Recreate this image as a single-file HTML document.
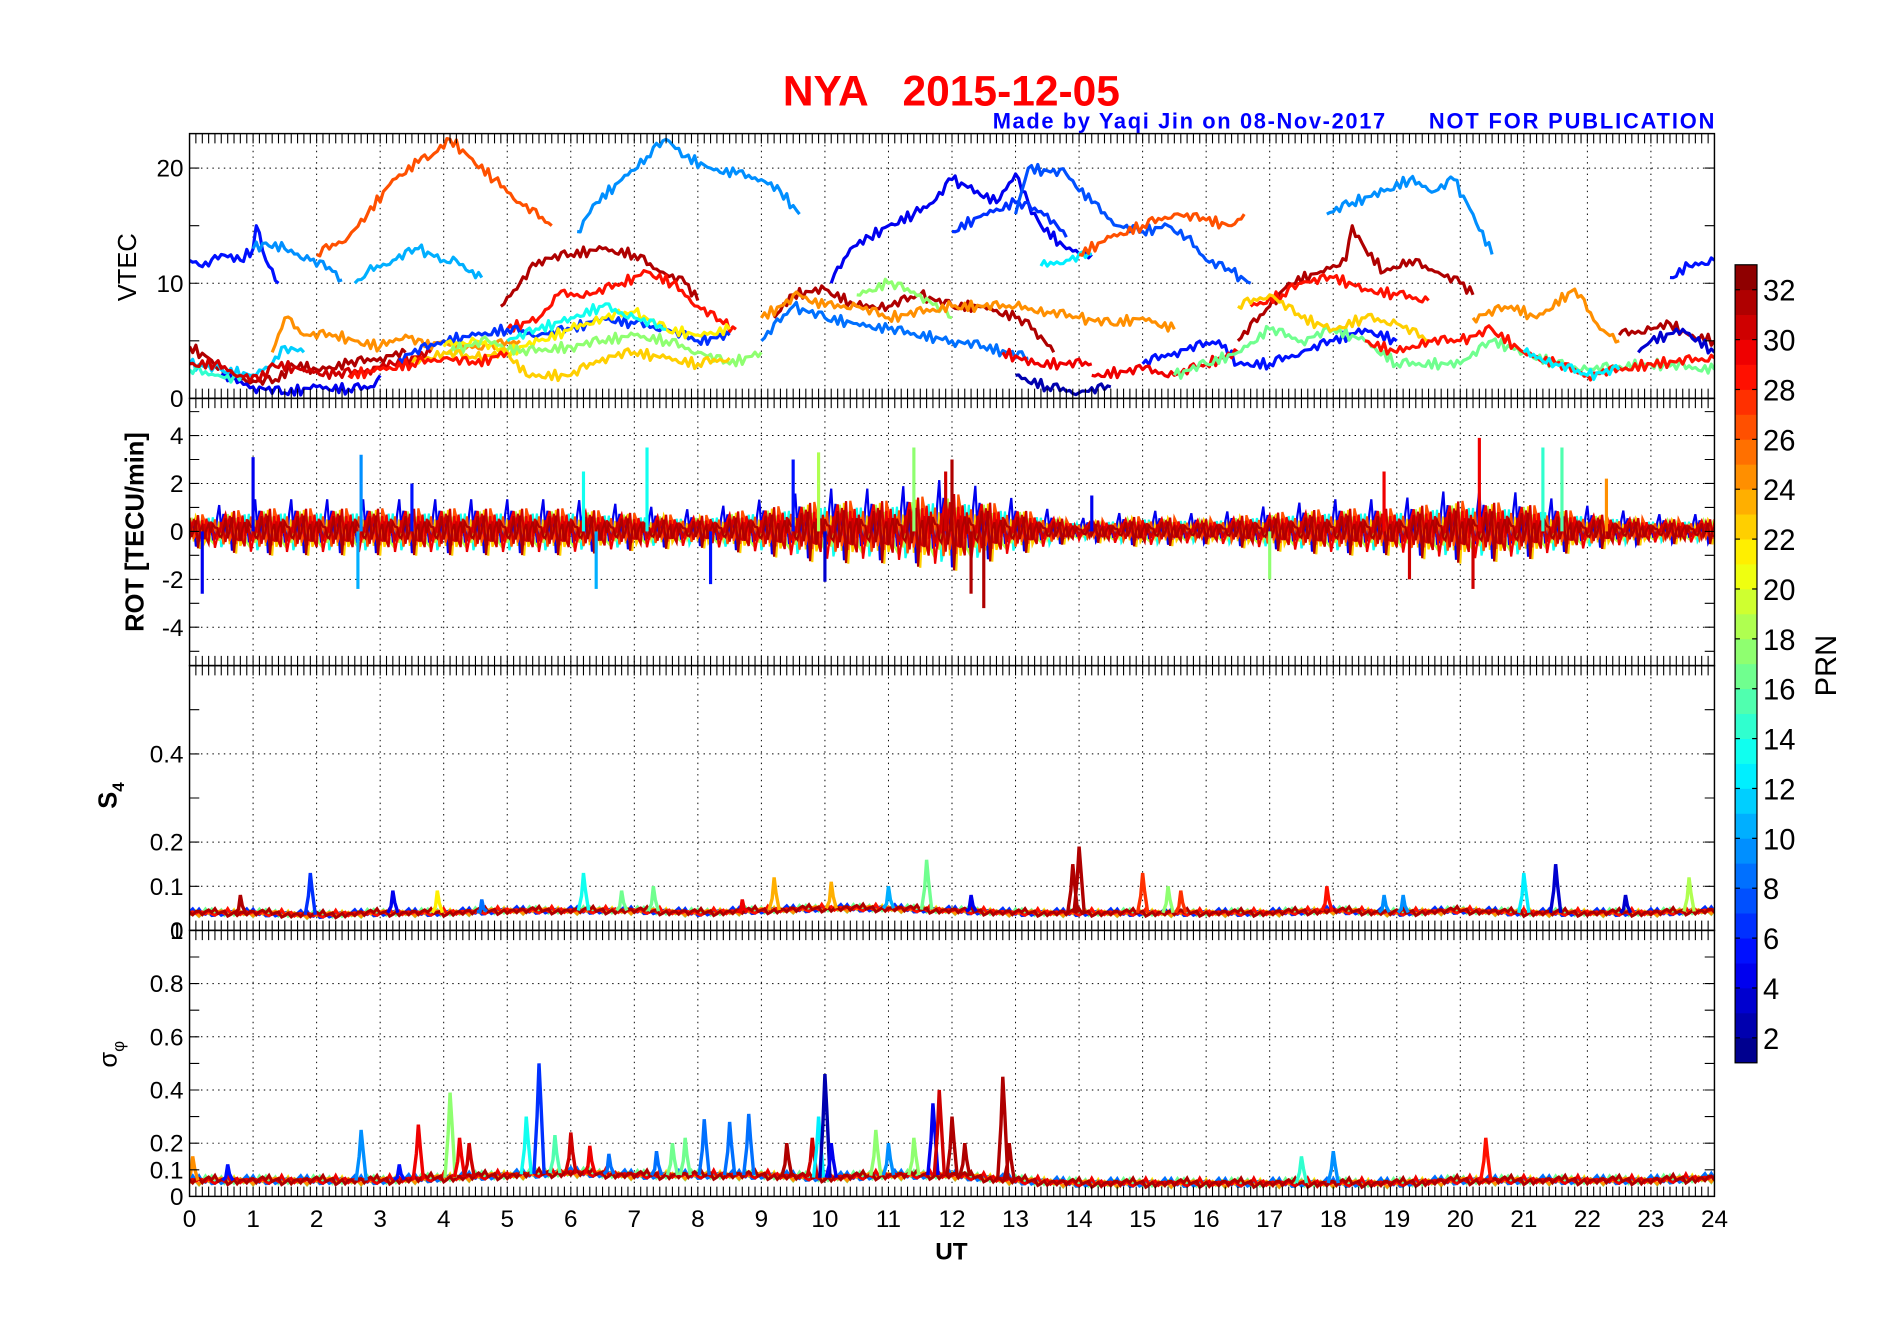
<!DOCTYPE html>
<html><head><meta charset="utf-8"><title>NYA 2015-12-05</title>
<style>html,body{margin:0;padding:0;background:#fff;}svg{display:block;font-family:"Liberation Sans",Arial,sans-serif;}</style>
</head><body>
<svg id="fig" width="1904" height="1330" viewBox="0 0 1567 1095" preserveAspectRatio="none" xmlns="http://www.w3.org/2000/svg">
<rect x="0" y="0" width="1567" height="1095" fill="#fff"/>
<text x="783" y="87" text-anchor="middle" font-size="35" font-weight="bold" fill="#ff0000" xml:space="preserve">NYA   2015-12-05</text>
<text x="817" y="106" font-size="18" font-weight="bold" fill="#0000ff" textLength="323">Made by Yaqi Jin on 08-Nov-2017</text>
<text x="1176" y="106" font-size="18" font-weight="bold" fill="#0000ff" textLength="235">NOT FOR PUBLICATION</text>
<g id="plots"></g>
</svg>
<script>
// ---------- data ----------
const xTicks = [0,1,2,3,4,5,6,7,8,9,10,11,12,13,14,15,16,17,18,19,20,21,22,23,24];
const cbTicks = [2,4,6,8,10,12,14,16,18,20,22,24,26,28,30,32];
const vtecTicks = [0,10,20];
const rotTicks = [-4,-2,0,2,4];
const s4Ticks = [0,0.1,0.2,0.4];
const sigTicks = [0,0.1,0.2,0.4,0.6,0.8,1];
const vtecPRN = [5,9,26,10,9,4,6,7,12,26,9,31,28,31,28,31,4,24,11,14,30,6,21,17,13,22,28,31,17,24,8,2,29,5,29,16,22,28,24,31,5,3,12];
const vtecTracks = [
[[0,12],[0.3,11.5],[0.5,12.5],[0.8,12],[1,13],[1.05,15],[1.2,12],[1.4,10]],
[[1,13],[1.2,13.5],[1.5,13],[1.9,12],[2.3,11],[2.4,10.3]],
[[2,12.5],[2.5,14],[2.8,16],[3.2,19],[3.6,20.5],[3.8,21],[4.1,22.5],[4.4,21],[4.8,19],[5.2,17],[5.7,15]],
[[2.6,10],[2.8,11],[3.2,12],[3.6,13],[4,12],[4.2,12],[4.4,11],[4.6,10.5]],
[[6.1,14.5],[6.4,17],[6.8,19],[7.2,21],[7.5,22.5],[7.8,21],[8.2,20],[8.6,19.5],[9,19],[9.3,18],[9.6,16]],
[[10.1,10],[10.4,13],[10.7,14],[11,15],[11.4,16],[11.7,17],[12,19],[12.4,18],[12.7,17],[13,19.5],[13.2,17],[13.4,15],[13.8,13],[14.2,12.5]],
[[12,14.5],[12.5,16],[13,17],[13.5,16],[13.8,14]],
[[13,16],[13.2,20],[13.8,19.5],[14.2,17],[14.6,15],[15,14.5],[15.4,15],[15.7,14],[16,12],[16.4,11],[16.7,10]],
[[13.4,11.5],[13.8,12],[14.2,12.5]],
[[14,12.5],[14.5,14],[15,15],[15.5,16],[16,15.5],[16.4,15],[16.6,16]],
[[17.9,16],[18.3,17],[18.8,18],[19.2,19],[19.6,18],[19.9,19],[20.2,16],[20.5,12.5]],
[[4.9,8],[5.2,10],[5.5,12],[6,12.5],[6.5,13],[7,12.5],[7.4,11],[7.8,10],[8,8.5]],
[[5,6],[5.5,7],[5.8,9],[6.3,9],[6.8,10],[7.2,11],[7.6,10],[8,8],[8.4,6.5],[8.6,6]],
[[16.5,5],[17,8],[17.3,10],[17.8,11],[18.2,12],[18.3,15],[18.5,13],[18.8,11],[19.2,12],[19.6,11],[20,10],[20.2,9]],
[[16.7,8],[17.2,9],[17.5,10],[18,10.5],[18.5,9.5],[19,9],[19.5,8.5]],
[[0,4.5],[0.3,3.5],[0.6,2],[1,1.5],[1.4,1.5],[1.6,3],[2,2.5],[2.5,3],[3,3.5],[3.4,4]],
[[0.5,2],[1,1],[1.5,0.5],[2,1],[2.5,0.8],[2.9,1],[3,2]],
[[1.3,4],[1.5,7],[1.8,5.5],[2.3,5.5],[2.6,5],[3,4.5],[3.4,5.5],[3.7,4.5],[4,5],[4.3,4.5],[4.7,4.5],[5.2,5]],
[[0,3],[0.5,2.5],[1,2],[1.3,3],[1.5,4.5],[1.8,4]],
[[0,2.5],[0.4,2],[0.8,1.5]],
[[0,3],[0.4,3],[0.8,2],[1.1,1.5],[1.3,3],[1.8,2.5],[2.3,2],[2.8,2.5],[3.2,3],[3.8,4]],
[[3.3,3.5],[4,5],[4.5,5.5],[5,6],[5.5,5.5],[6,6],[6.5,7],[7,6.5],[7.5,6],[8,5],[8.5,5.5]],
[[4,4.5],[4.5,5],[5,4],[5.5,5],[6,6],[6.5,7],[7,7.5],[7.5,6],[8,5.5],[8.5,6]],
[[4,4],[4.7,5],[5.2,4],[6,4.5],[6.5,5],[7,5.5],[7.5,5],[8,4],[8.5,3],[9,4]],
[[5,5],[5.5,6],[6,7],[6.5,8],[7,7],[7.5,6]],
[[3.5,3],[4,4],[4.5,3.5],[5,4],[5.3,2],[6,2],[6.5,3.5],[7,4],[7.5,3.5],[8,3],[8.5,3.5]],
[[2.5,2],[3,2.5],[3.5,3],[4,3.5],[4.5,3],[5,4]],
[[9.2,7],[9.5,9],[10,9.5],[10.5,8],[11,8],[11.5,9],[12,8],[12.5,8],[13,7],[13.3,6],[13.6,4]],
[[10.5,9],[11,10],[11.5,9],[12,7]],
[[9,7],[9.6,9],[10,8],[10.5,8],[11,7],[12,8],[13,8],[13.5,7.5],[14,7],[14.5,6.5],[15,7],[15.5,6]],
[[9,5],[9.5,8],[10,7],[10.5,6.5],[11,6],[12,5],[12.5,4.5],[13.2,3.5]],
[[13,2],[13.5,1],[14,0.5],[14.5,1]],
[[12.8,4],[13.3,3],[14.2,3]],
[[15,3],[15.5,4],[16.2,5],[16.5,3],[17,3],[17.5,4],[18,5],[18.5,6],[19,5]],
[[14.2,2],[15,2.5],[15.5,2],[16,3],[16.5,4]],
[[15.5,2],[16,3],[16.5,4],[17,6],[17.5,5],[18,6],[18.5,5],[19,3],[20,3],[20.5,5],[21,4],[21.5,3],[22,2.5],[23,3],[24,2.5]],
[[16.5,8],[17,9],[17.5,7],[18,6],[18.5,7],[19,6.5],[19.5,5]],
[[18.5,5],[19,4],[19.5,5],[20,5],[20.5,6],[21,4],[21.5,3],[22,2],[23,3],[24,3.5]],
[[20.2,7],[20.8,8],[21.2,7],[21.8,9.5],[22.2,6],[22.5,5]],
[[22.5,5.5],[23,6],[23.3,6.5],[23.6,5.5],[24,5]],
[[23.3,10.5],[23.6,11.5],[24,12]],
[[22.8,4],[23,5],[23.5,6],[24,4]],
[[21,4],[21.5,3],[22,2],[22.5,2.5]]
];
const rotEnvelope = [1,1.5,1.5,1.5,1.5,1.5,1.5,1.2,1,1.5,2,2,2.5,1.5,0.6,1,0.8,1.2,1.5,1.5,2,1.8,1.2,0.8,0.8];
const rotPattern = [0.3,-0.8,0.5,-0.2,1,-0.6,0.1,-1,0.7,-0.4,0.2,0.9,-0.5,0.05,-0.3,0.6,-0.1];
const rotPRN = [13,18,22,4,26,29,30,31];
const rotSpikes = [[0.2,-2.6,4],[1,3.1,4],[2.7,3.2,9],[2.65,-2.4,10],[7.2,3.5,13],[10,-2.1,3],[11.4,3.5,17],[12.5,-3.2,31],[20.3,3.9,29],[20.2,-2.4,30],[21.3,3.5,14],[21.6,3.5,15],[9.5,3,5],[9.9,3.3,18],[8.2,-2.2,5],[17,-2,17],[6.4,-2.4,10],[12,3,31],[12.3,-2.6,31],[11.9,2.5,30],[6.2,2.5,13],[3.5,2,5],[14.2,1.5,4],[18.8,2.5,29],[19.2,-2,30],[22.3,2.2,24]];
const s4Base = [0.04,0.04,0.035,0.04,0.04,0.045,0.045,0.045,0.04,0.045,0.05,0.05,0.045,0.04,0.04,0.04,0.04,0.04,0.045,0.04,0.045,0.04,0.04,0.04,0.045];
const s4PRN = [21,16,6,24,28,31];
const s4Spikes = [[0.8,0.08,31],[1.9,0.13,6],[3.2,0.09,4],[3.9,0.09,21],[6.2,0.13,13],[6.8,0.09,16],[7.3,0.1,16],[9.2,0.12,23],[10.1,0.11,23],[11,0.1,10],[11.6,0.16,16],[12.3,0.08,4],[13.9,0.15,31],[14,0.19,31],[15,0.13,27],[15.4,0.1,17],[15.6,0.09,27],[17.9,0.1,28],[18.8,0.08,9],[19.1,0.08,9],[21,0.13,12],[21.5,0.15,3],[22.6,0.08,3],[23.6,0.12,18],[8.7,0.07,29],[4.6,0.07,8]];
const sigBase = [0.06,0.06,0.06,0.06,0.07,0.08,0.09,0.08,0.08,0.08,0.07,0.08,0.08,0.06,0.05,0.05,0.05,0.05,0.05,0.05,0.06,0.06,0.06,0.06,0.07];
const sigPRN = [21,16,8,24,29,31];
const sigSpikes = [[0.05,0.15,24],[0.6,0.12,5],[2.7,0.25,9],[3.6,0.27,29],[4.1,0.39,17],[4.25,0.22,29],[4.4,0.2,30],[5.3,0.3,13],[5.5,0.5,6],[5.75,0.23,15],[6,0.24,30],[6.3,0.19,29],[7.35,0.17,8],[7.6,0.2,16],[7.8,0.22,16],[8.1,0.29,8],[8.5,0.28,8],[8.8,0.31,8],[9.4,0.2,31],[9.8,0.22,30],[9.9,0.3,12],[10,0.46,2],[10.1,0.2,4],[10.8,0.25,17],[11.4,0.22,17],[11.7,0.35,4],[11.8,0.4,30],[12,0.3,31],[12.2,0.2,31],[12.8,0.45,31],[12.9,0.2,31],[17.5,0.15,14],[18,0.17,9],[20.4,0.22,28],[11,0.2,9],[6.6,0.16,8],[3.3,0.12,5]];

// ---------- geometry ----------
const NS='http://www.w3.org/2000/svg';
const X0=156, X1=1411;
const panels = [
  {name:'vtec', top:110, bot:328, min:-0.0, max:23, ticks:vtecTicks, minor:[5,15], label:'VTEC', grid:[10,20]},
  {name:'rot', top:328, bot:548, min:-5.6, max:5.55, ticks:rotTicks, minor:[-5,-3,-1,1,3,5], label:'ROT [TECU/min]', grid:[-4,-2,0,2,4]},
  {name:'s4', top:548, bot:766, min:0, max:0.6, ticks:s4Ticks, minor:[0.3,0.5], label:'S4', grid:[0.1,0.2,0.4]},
  {name:'sigma', top:766, bot:985, min:0, max:1, ticks:sigTicks, minor:[0.3,0.5,0.7,0.9], label:'sig', grid:[0.2,0.4,0.6,0.8]}
];
function xs(h){return X0+(X1-X0)*h/24;}
function ys(p,v){return p.bot-(v-p.min)/(p.max-p.min)*(p.bot-p.top);}
function jet(prn){
  const v=(prn-1+0.5)/32;
  const r=Math.max(0,Math.min(1,1.5-Math.abs(4*v-3)));
  const g=Math.max(0,Math.min(1,1.5-Math.abs(4*v-2)));
  const b=Math.max(0,Math.min(1,1.5-Math.abs(4*v-1)));
  return 'rgb('+Math.round(r*255)+','+Math.round(g*255)+','+Math.round(b*255)+')';
}
function mk(tag,attrs,parent){const e=document.createElementNS(NS,tag);for(const k in attrs)e.setAttribute(k,attrs[k]);parent.appendChild(e);return e;}
const root=document.getElementById('plots');
function interp(arr,h){const i=Math.min(23,Math.floor(h));const f=h-i;return arr[i]*(1-f)+arr[i+1]*f;}
const NP=rotPattern.length;

panels.forEach((p,pi)=>{
  const g=mk('g',{},root);
  
  
  const clipId='clip'+pi;
  const cp=mk('clipPath',{id:clipId},g);
  mk('rect',{x:X0,y:p.top,width:X1-X0,height:p.bot-p.top},cp);
  xTicks.forEach(h=>{ if(h>0&&h<24){const l=mk('line',{x1:xs(h),x2:xs(h),y1:p.top,y2:p.bot,stroke:'#000','stroke-width':0.8,'stroke-dasharray':'1.2,3.5'},g);
    
    }});
  p.grid.forEach(v=>{const l=mk('line',{x1:X0,x2:X1,y1:ys(p,v),y2:ys(p,v),stroke:'#000','stroke-width':0.8,'stroke-dasharray':'1.2,3.5'},g);
    
    });
  const dg=mk('g',{'clip-path':'url(#'+clipId+')'},g);
  
  
  if(p.name==='vtec'){
    vtecTracks.forEach((tr,k)=>{
      let pts=[];
      for(let j=0;j<tr.length;j++){
        pts.push(xs(tr[j][0]).toFixed(1)+','+ys(p,tr[j][1]).toFixed(1));
        if(j<tr.length-1){
          const n=Math.max(2,Math.round((tr[j+1][0]-tr[j][0])*20));
          for(let m=1;m<n;m++){const f=m/n;const h=tr[j][0]+(tr[j+1][0]-tr[j][0])*f;const v=tr[j][1]+(tr[j+1][1]-tr[j][1])*f+0.45*rotPattern[(m*3+j*5+k)%NP];
            pts.push(xs(h).toFixed(1)+','+ys(p,v).toFixed(1));}
        }
      }
      const pl=mk('polyline',{points:pts.join(' '),fill:'none',stroke:jet(vtecPRN[k]),'stroke-width':2.6,'stroke-linejoin':'round'},dg);
      
      
    });
  } else if(p.name==='rot'){
    rotPRN.forEach((prn,k)=>{
      let pts=[];
      for(let i=0;i<=720;i++){const h=i/30;const a=rotPattern[(i*7+k*5)%NP]*rotPattern[(i*3+k*11+4)%NP];
        const v=interp(rotEnvelope,h)*(rotPattern[(i*5+k*3)%NP]*0.45+a*0.6);pts.push(xs(h).toFixed(1)+','+ys(p,v).toFixed(1));}
      const pl=mk('polyline',{points:pts.join(' '),fill:'none',stroke:jet(prn),'stroke-width':1.8},dg);
      
      
    });
    rotSpikes.forEach(s=>{
      const l=mk('line',{x1:xs(s[0]),x2:xs(s[0]),y1:ys(p,0),y2:ys(p,s[1]),stroke:jet(s[2]),'stroke-width':2.6},dg);
      
      
    });
  } else {
    const base = p.name==='s4'?s4Base:sigBase;
    const prns = p.name==='s4'?s4PRN:sigPRN;
    const spikes = p.name==='s4'?s4Spikes:sigSpikes;
    const amp = p.name==='s4'?0.006:0.012;
    prns.forEach((prn,k)=>{
      let pts=[];
      for(let i=0;i<=480;i++){const h=i/20;const v=interp(base,h)+amp*rotPattern[(i*5+k*3)%NP]+amp*0.6*rotPattern[(i*2+k)%NP];pts.push(xs(h).toFixed(1)+','+ys(p,v).toFixed(1));}
      const pl=mk('polyline',{points:pts.join(' '),fill:'none',stroke:jet(prn),'stroke-width':2.4},dg);
      
      
    });
    spikes.forEach(s=>{
      const b=interp(base,s[0]);
      const pts=[[s[0]-0.08,b],[s[0]-0.03,s[1]*0.6],[s[0],s[1]],[s[0]+0.03,s[1]*0.7],[s[0]+0.08,b]].map(d=>xs(d[0]).toFixed(1)+','+ys(p,d[1]).toFixed(1)).join(' ');
      const pl=mk('polyline',{points:pts,fill:'none',stroke:jet(s[2]),'stroke-width':2.8},dg);
      
      
    });
  }
  const fr=mk('rect',{x:X0,y:p.top,width:X1-X0,height:p.bot-p.top,fill:'none',stroke:'#000','stroke-width':1.2},g);
  
  
  let d='';
  for(let i=1;i<240;i++){const x=xs(i/10).toFixed(1);const len=8;d+='M'+x+','+p.top+'v'+len+'M'+x+','+p.bot+'v-'+len;}
  p.ticks.concat(p.minor).forEach(v=>{const y=ys(p,v);if(y>p.top+1&&y<p.bot-1){d+='M'+X0+','+y.toFixed(1)+'h8M'+X1+','+y.toFixed(1)+'h-8';}});
  const tk=mk('path',{d:d,stroke:'#000','stroke-width':0.9,fill:'none'},g);
  
  
  p.ticks.forEach(v=>{
    const t=mk('text',{x:X0-5,y:ys(p,v)+7,'text-anchor':'end','font-size':20,fill:'#000'},g);
    t.textContent=String(v);
    
    
  });
  const cy=(p.top+p.bot)/2;
  const yl=mk('text',{transform:'translate(112,'+cy+') rotate(-90)','text-anchor':'middle','font-size':21,fill:'#000','font-weight':(p.name==='vtec'?'normal':'bold')},g);
  
  
  if(p.name==='s4'){yl.setAttribute('transform','translate(96,655) rotate(-90)');yl.innerHTML='S<tspan font-size="14" dy="6">4</tspan>';}
  else if(p.name==='sigma'){yl.setAttribute('transform','translate(96,868) rotate(-90)');yl.setAttribute('font-weight','normal');yl.innerHTML='σ<tspan font-size="14" dy="6">φ</tspan>';}
  else if(p.name==='rot'){yl.setAttribute('transform','translate(118,'+cy+') rotate(-90)');yl.textContent=p.label;}
  else {yl.setAttribute('transform','translate(112,220) rotate(-90)');yl.textContent=p.label;}
});
xTicks.forEach(h=>{
  const t=mk('text',{x:xs(h),y:1010,'text-anchor':'middle','font-size':20,fill:'#000'},root);
  t.textContent=String(h);
  
  
});
const xl=mk('text',{x:783,y:1037,'text-anchor':'middle','font-size':20,'font-weight':'bold',fill:'#000'},root);
xl.textContent='UT';


const CB={x:1428,w:18,top:218,bot:875,min:1,max:33};
function cby(v){return CB.bot-(v-CB.min)/(CB.max-CB.min)*(CB.bot-CB.top);}
const cbg=mk('g',{},root);


for(let prn=1;prn<=32;prn++){
  const r=mk('rect',{x:CB.x,y:cby(prn+1),width:CB.w,height:cby(prn)-cby(prn+1)+0.3,fill:jet(prn)},cbg);
  
  
}
mk('rect',{x:CB.x,y:CB.top,width:CB.w,height:CB.bot-CB.top,fill:'none',stroke:'#000','stroke-width':1},cbg);
cbTicks.forEach(v=>{
  mk('line',{x1:CB.x,x2:CB.x+4,y1:cby(v),y2:cby(v),stroke:'#000'},cbg);
  mk('line',{x1:CB.x+CB.w-4,x2:CB.x+CB.w,y1:cby(v),y2:cby(v),stroke:'#000'},cbg);
  const t=mk('text',{x:1451,y:cby(v)+9,'font-size':24,fill:'#000'},cbg);
  t.textContent=String(v);
  
  
});
const cbl=mk('text',{transform:'translate(1511,548) rotate(-90)','text-anchor':'middle','font-size':24,fill:'#000'},cbg);
cbl.textContent='PRN';


</script>
</body></html>
